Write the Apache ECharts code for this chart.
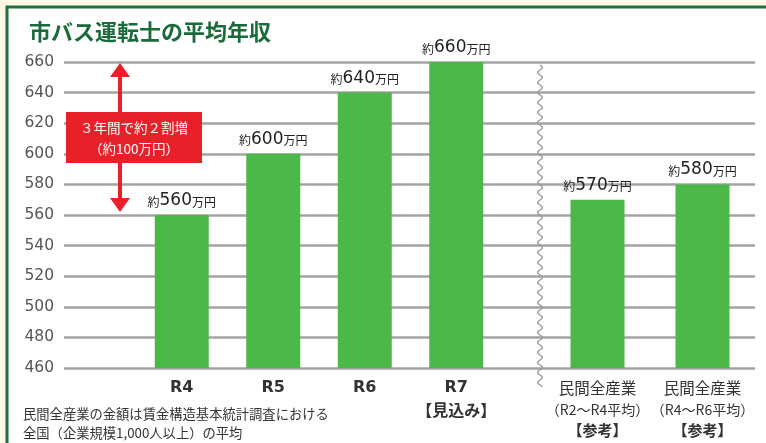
<!DOCTYPE html>
<html>
<head>
<meta charset="utf-8">
<script src="https://cdn.jsdelivr.net/npm/echarts@6/dist/echarts.min.js"></script>
<style>
  html, body { margin: 0; padding: 0; background: #fdf9e4; }
  #chart { width: 766px; height: 443px; }
</style>
</head>
<body>
<div id="chart"></div>
<script>
// 市バス運転士（R4〜R7）
const busYears = ['R4', 'R5', 'R6', 'R7'];
const busSalary = [560, 600, 640, 660];
// 民間全産業（参考）
const privateCats = ['民間全産業|（R2～R4平均）', '民間全産業|（R4～R6平均）'];
const privateSalary = [570, 580];
// 縦軸
const yMin = 460;
const yMax = 660;
const yStep = 20;

const GREEN = '#4cb848';
const RED = '#e8202a';
const FONT = '"Noto Sans CJK JP", "Noto Sans", sans-serif';
const NUM_FONT = '"DejaVu Sans", sans-serif';

const chart = echarts.init(document.getElementById('chart'));

const valueLabel = {
    show: true,
    position: 'top',
    distance: 6,
    formatter: (p) => `{s|約}{n|${p.value}}{s|万円}`,
    rich: {
        s: { fontSize: 12, color: '#222', fontFamily: FONT, padding: [3, 0, 0, 0] },
        n: { fontSize: 17, color: '#222', fontFamily: NUM_FONT }
    }
};

function hiddenY(idx) {
    return {
        type: 'value', gridIndex: idx, min: yMin, max: yMax, interval: yStep,
        show: false
    };
}

const option = {
    backgroundColor: '#fdf9e4',
    animation: false,
    title: {
        text: '市バス運転士の平均年収',
        left: 24, top: 16,
        textStyle: { fontSize: 22, fontWeight: 'bold', color: '#1a6b3a', fontFamily: FONT }
    },
    grid: [
        { left: 64, right: 11, top: 62, bottom: 75 },
        { left: 136, width: 366, top: 62, bottom: 75 },
        { left: 545, width: 210, top: 62, bottom: 75 }
    ],
    xAxis: [
        { type: 'category', gridIndex: 0, data: [''], show: false },
        {
            type: 'category', gridIndex: 1, data: busYears,
            axisLine: { show: false }, axisTick: { show: false },
            axisLabel: {
                interval: 0,
                margin: 9,
                formatter: (v) => v === 'R7' ? '{y|R7}\n{k|【見込み】}' : '{y|' + v + '}',
                rich: {
                    y: { fontSize: 16, color: '#333', fontWeight: 'bold', fontFamily: NUM_FONT, lineHeight: 22 },
                    k: { fontSize: 16, color: '#333', fontWeight: 'bold', fontFamily: FONT, lineHeight: 22 }
                }
            }
        },
        {
            type: 'category', gridIndex: 2, data: privateCats,
            axisLine: { show: false }, axisTick: { show: false },
            axisLabel: {
                interval: 0,
                margin: 10,
                formatter: (v) => {
                    const parts = v.split('|');
                    return '{a|' + parts[0] + '}\n{b|' + parts[1] + '}\n{c|【参考】}';
                },
                rich: {
                    a: { fontSize: 15.5, color: '#333', fontFamily: FONT, lineHeight: 21 },
                    b: { fontSize: 14, color: '#333', fontFamily: FONT, lineHeight: 21 },
                    c: { fontSize: 15, color: '#333', fontWeight: 'bold', fontFamily: FONT, lineHeight: 21 }
                }
            }
        }
    ],
    yAxis: [
        {
            type: 'value', gridIndex: 0, min: yMin, max: yMax, interval: yStep,
            axisLine: { show: false }, axisTick: { show: false },
            axisLabel: { margin: 10, fontSize: 15.5, color: '#555', fontFamily: NUM_FONT },
            splitLine: { show: true, lineStyle: { color: '#a3a3a3', width: 2.5 } }
        },
        hiddenY(1),
        hiddenY(2)
    ],
    series: [
        {
            type: 'bar', xAxisIndex: 1, yAxisIndex: 1, data: busSalary,
            barWidth: 54, itemStyle: { color: GREEN }, label: valueLabel, z: 3
        },
        {
            type: 'bar', xAxisIndex: 2, yAxisIndex: 2, data: privateSalary,
            barWidth: 54, itemStyle: { color: GREEN }, label: valueLabel, z: 3
        }
    ]
};

chart.setOption(option);

// 装飾（枠線・波線・注記）
const yTop = chart.convertToPixel({ yAxisIndex: 0 }, 660);
const yBot = chart.convertToPixel({ yAxisIndex: 0 }, 560);
const arrowX = 120;

const wave = [];
for (let y = 65; y <= 387; y += 1) {
    wave.push([540 + 2.5 * Math.sin((y - 65) / 10 * 2 * Math.PI), y]);
}

chart.setOption({
    graphic: [
        {
            type: 'rect', z: -100, silent: true,
            shape: { x: 7, y: 7, width: 800, height: 480 },
            style: { fill: '#ffffff', stroke: '#1f6e3d', lineWidth: 3 }
        },
        {
            type: 'polyline', z: 10, silent: true,
            shape: { points: wave },
            style: { stroke: '#9a9a9a', lineWidth: 1.3, fill: null }
        },
        {
            type: 'line', z: 10, silent: true,
            shape: { x1: arrowX, y1: yTop + 12, x2: arrowX, y2: yBot - 14 },
            style: { stroke: RED, lineWidth: 4 }
        },
        {
            type: 'polygon', z: 10, silent: true,
            shape: { points: [[arrowX, yTop + 1], [arrowX - 10, yTop + 15], [arrowX + 10, yTop + 15]] },
            style: { fill: RED }
        },
        {
            type: 'polygon', z: 10, silent: true,
            shape: { points: [[arrowX, yBot - 3], [arrowX - 10, yBot - 17], [arrowX + 10, yBot - 17]] },
            style: { fill: RED }
        },
        {
            type: 'rect', z: 11, silent: true,
            shape: { x: 66, y: 112, width: 136, height: 51 },
            style: { fill: RED }
        },
        {
            type: 'text', z: 12, silent: true,
            style: {
                x: 134, y: 138, text: '３年間で約２割増\n（約100万円）',
                fill: '#fff', fontSize: 13.5, lineHeight: 21, fontFamily: FONT,
                align: 'center', verticalAlign: 'middle'
            }
        },
        {
            type: 'text', z: 12, silent: true,
            style: {
                x: 23, y: 404, text: '民間全産業の金額は賃金構造基本統計調査における\n全国（企業規模1,000人以上）の平均',
                fill: '#333', fontSize: 13.3, lineHeight: 19, fontFamily: FONT
            }
        }
    ]
});
</script>
</body>
</html>
